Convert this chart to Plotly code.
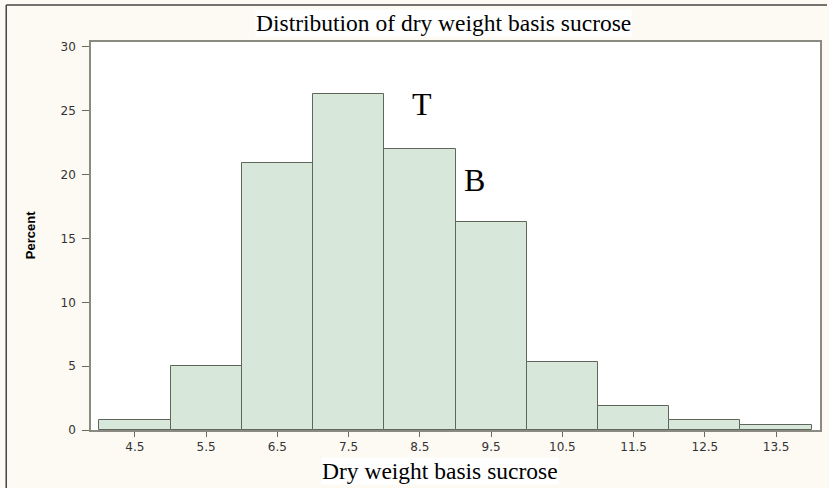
import plotly.graph_objects as go

# Data
bin_centers = [4.5, 5.5, 6.5, 7.5, 8.5, 9.5, 10.5, 11.5, 12.5, 13.5]
percents = [0.8, 5.0, 20.9, 26.3, 22.0, 16.3, 5.3, 1.9, 0.8, 0.4]
x_ticks = [4.5, 5.5, 6.5, 7.5, 8.5, 9.5, 10.5, 11.5, 12.5, 13.5]
y_ticks = [0, 5, 10, 15, 20, 25, 30]

serif = "Liberation Serif, Times New Roman, serif"
sans = "DejaVu Sans, Arial, sans-serif"

W, H = 829, 488
L, R, T, B = 91, 7, 42, 58
PW, PH = W - L - R, H - T - B


def px(xp):
    return (xp - L) / PW


def py(yp):
    return (H - B - yp) / PH


fig = go.Figure()
fig.add_trace(go.Bar(
    x=bin_centers, y=percents, width=1.0,
    marker=dict(color="#d7e7da", line=dict(color="#5f665c", width=1)),
    showlegend=False, hoverinfo="x+y",
))

fig.update_layout(
    width=W, height=H,
    margin=dict(l=L, r=R, t=T, b=B),
    paper_bgcolor="#fdfaf3",
    plot_bgcolor="#ffffff",
    bargap=0,
    xaxis=dict(
        range=[3.884, 14.116], tickvals=x_ticks, ticktext=[str(v) for v in x_ticks],
        ticks="outside", ticklen=5, tickcolor="#6a6a60", showgrid=False, zeroline=False,
        showline=True, linecolor="#8a8a80", linewidth=1.5, mirror=True,
        tickfont=dict(family=sans, size=12, color="#333333"),
    ),
    yaxis=dict(
        range=[0, 30.39], tickvals=y_ticks, ticks="outside", ticklen=7, tickcolor="#6a6a60",
        showgrid=False, zeroline=False, ticklabelstandoff=4,
        showline=True, linecolor="#8a8a80", linewidth=1.5, mirror=True,
        tickfont=dict(family=sans, size=12, color="#333333"),
    ),
    annotations=[
        dict(text="Distribution of dry weight basis sucrose", xref="paper", yref="paper",
             x=px(444), y=py(37), xanchor="center", yanchor="bottom", showarrow=False,
             font=dict(family=serif, size=23.5, color="#000"),
             bgcolor="#ffffff", borderpad=0),
        dict(text="Dry weight basis sucrose", xref="paper", yref="paper",
             x=px(441), y=py(471), xanchor="center", yanchor="middle", showarrow=False,
             font=dict(family=serif, size=23.5, color="#000"),
             bgcolor="#ffffff", borderpad=0),
        dict(text="<b>Percent</b>", xref="paper", yref="paper", x=px(30), y=py(235),
             xanchor="center", yanchor="middle",
             textangle=-90, showarrow=False,
             font=dict(family="Liberation Sans Narrow, Arial Narrow, sans-serif", size=13, color="#000")),
        dict(text="T", xref="x", yref="y", x=8.534, y=25.55, xanchor="center", yanchor="middle",
             showarrow=False, font=dict(family=serif, size=32, color="#000")),
        dict(text="B", xref="x", yref="y", x=9.262, y=19.6, xanchor="center", yanchor="middle",
             showarrow=False, font=dict(family=serif, size=32, color="#000")),
    ],
    shapes=[
        dict(type="line", xref="paper", yref="paper", x0=px(6), x1=px(829), y0=py(5), y1=py(5),
             line=dict(color="#444444", width=1.5)),
        dict(type="line", xref="paper", yref="paper", x0=px(6), x1=px(6), y0=py(5), y1=py(488),
             line=dict(color="#444444", width=1.5)),
    ],
)

fig.write_html("out.html", config={"displayModeBar": False},
               post_script="document.body.style.margin='0';document.body.style.padding='0';")
